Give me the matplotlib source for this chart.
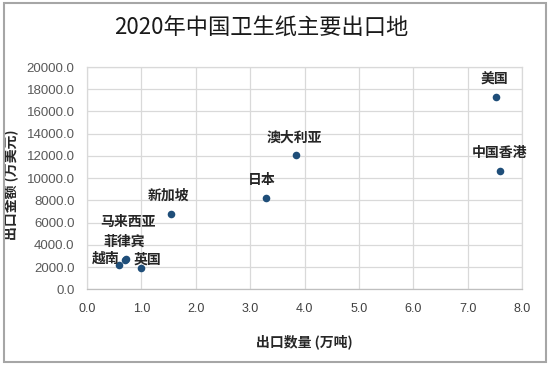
import matplotlib
matplotlib.use("Agg")
import matplotlib.pyplot as plt
from matplotlib.patches import Rectangle

plt.rcParams['font.family'] = ['Noto Sans CJK SC', 'DejaVu Sans']

# Data
countries = ["越南", "菲律宾", "马来西亚", "英国", "新加坡", "日本", "澳大利亚", "美国", "中国香港"]
volume = [0.58, 0.70, 0.72, 0.99, 1.54, 3.29, 3.85, 7.52, 7.60]      # 万吨
value = [2200, 2630, 2700, 1890, 6740, 8180, 12070, 17300, 10660]    # 万美元
# label offsets in pixels (dx, dy)
label_offsets = [(-13, 6), (-1, 18), (2, 37), (7, 9), (-2, 19), (-4, 18), (-2, 18), (-1, 17), (-1, 18)]

x_ticks = [0, 1, 2, 3, 4, 5, 6, 7, 8]
y_ticks = [0, 2000, 4000, 6000, 8000, 10000, 12000, 14000, 16000, 18000, 20000]

W, H = 556, 365
fig = plt.figure(figsize=(W / 100, H / 100), dpi=100)
ax = fig.add_axes([87 / W, 1 - 289.3 / H, (522 - 87) / W, (289.3 - 67) / H])

ax.scatter(volume, value, s=30, color="#1f4e79", zorder=3, linewidths=0)
for name, xv, yv, (dx, dy) in zip(countries, volume, value, label_offsets):
    ax.annotate(name, (xv, yv), xytext=(dx * 0.72, dy * 0.72), textcoords="offset points",
                ha="center", va="center", fontsize=10, fontweight="bold", color="#262626")

ax.set_xlim(0, 8)
ax.set_ylim(0, 20000)
ax.set_xticks(x_ticks)
ax.set_yticks(y_ticks)
ax.set_xticklabels([f"{t:.1f}" for t in x_ticks], fontsize=9, color="#404040",
                   family=['Liberation Sans', 'DejaVu Sans'])
ax.set_yticklabels([f"{t:.1f}" for t in y_ticks], fontsize=9.5, color="#595959",
                   family=['Liberation Sans', 'DejaVu Sans'])
ax.tick_params(axis='both', length=0)
ax.tick_params(axis='x', pad=10)
ax.tick_params(axis='y', pad=9)
ax.grid(True, color="#d9d9d9", linewidth=0.9)
ax.set_axisbelow(True)
for s in ax.spines.values():
    s.set_color("#d9d9d9")
    s.set_linewidth(0.9)
ax.spines['bottom'].set_color("#bfbfbf")
ax.spines['left'].set_color("#d9d9d9")

ax.set_xlabel("出口数量 (万吨)", fontsize=10, fontweight="bold", color="#262626", labelpad=14)
ax.set_ylabel("出口金额 (万美元)", fontsize=10, fontweight="bold", color="#262626", labelpad=6)
ax.yaxis.set_label_coords(-0.158, 0.47)

fig.text(0.47, 1 - 28 / H, "2020年中国卫生纸主要出口地", ha="center", va="center",
         fontsize=16, color="#1a1a1a")

fig.patches.append(Rectangle((3.5 / W, 3 / H), (546 - 3.5) / W, (362 - 3) / H,
                             transform=fig.transFigure, fill=False,
                             edgecolor="#a6a6a6", linewidth=1.5))

fig.savefig("out.png", dpi=100, facecolor="white")
